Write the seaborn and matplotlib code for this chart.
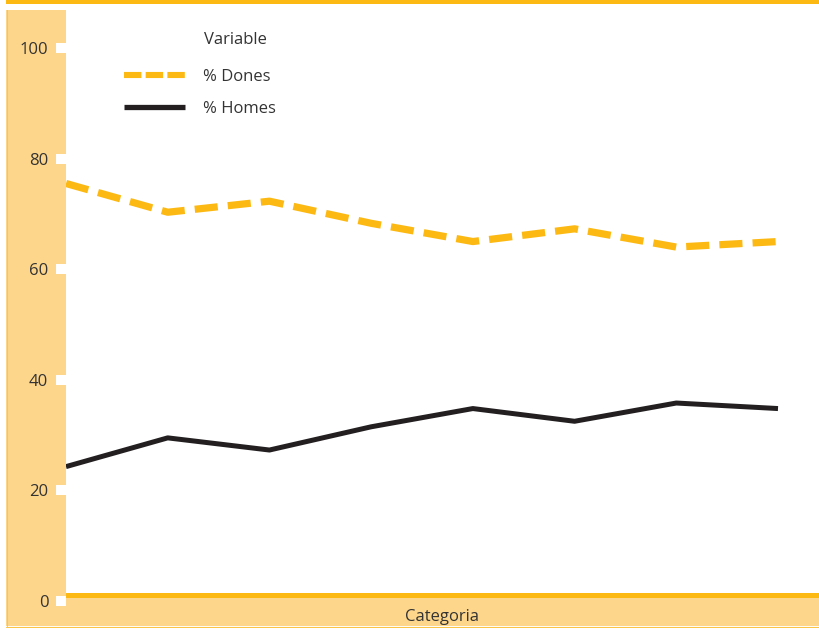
import matplotlib
matplotlib.use("Agg")
import matplotlib.pyplot as plt
import seaborn as sns
import pandas as pd
from matplotlib.patches import Rectangle
from matplotlib.lines import Line2D

# ---- data ----
categories = ["C1", "C2", "C3", "C4", "C5", "C6", "C7", "C8"]
dones = [75.5, 70.3, 72.3, 68.3, 65.0, 67.3, 64.0, 65.0]
homes = [24.3, 29.5, 27.3, 31.5, 34.8, 32.5, 35.8, 34.8]
series_names = ["% Dones", "% Homes"]
y_ticks = [0, 20, 40, 60, 80, 100]

ORANGE = "#FDB913"
BAND = "#FDD68C"
EDGE = "#FBC547"
BLACK = "#231F20"
TXT = "#333333"

sns.set_theme(style="white")
plt.rcParams["font.family"] = ["Open Sans", "DejaVu Sans"]

W, H = 819, 628
fig = plt.figure(figsize=(W / 100, H / 100), dpi=100)
fig.patch.set_facecolor("white")

def fx(px):
    return px / W

def fy(py):
    return 1 - py / H

# left band
fig.patches.append(Rectangle((fx(6), fy(626)), fx(66) - fx(6), fy(10) - fy(626),
                             transform=fig.transFigure, facecolor=BAND,
                             edgecolor="none", zorder=-1))
fig.lines.append(Line2D([fx(6.5), fx(6.5)], [fy(10), fy(626)], transform=fig.transFigure,
                        color=EDGE, linewidth=0.8, zorder=3))
fig.lines.append(Line2D([fx(6), 1], [fy(626.5), fy(626.5)], transform=fig.transFigure,
                        color=EDGE, linewidth=0.8, zorder=3))
# top line
fig.patches.append(Rectangle((fx(6), fy(4.3)), 1 - fx(6), fy(0) - fy(4.3),
                             transform=fig.transFigure, facecolor=ORANGE,
                             edgecolor="none", zorder=3))

ax = fig.add_axes([fx(66), fy(626), fx(819) - fx(66), fy(4) - fy(626)])
ax.set_facecolor("white")

df = pd.DataFrame({
    "Categoria": categories * 2,
    "Valor": dones + homes,
    "Variable": [series_names[0]] * len(categories) + [series_names[1]] * len(categories),
})

sns.lineplot(data=df[df["Variable"] == series_names[0]], x="Categoria", y="Valor",
             color=ORANGE, linewidth=5.2, ax=ax, legend=False, zorder=4)
sns.lineplot(data=df[df["Variable"] == series_names[1]], x="Categoria", y="Valor",
             color=BLACK, linewidth=3.6, ax=ax, legend=False, zorder=4)
ax.lines[0].set_linestyle((0, (3.2, 1.4)))
for ln in ax.lines:
    ln.set_solid_capstyle("butt")
    ln.set_dash_capstyle("butt")

# scales
px_per_unit = (601 - 48) / 100.0
ybot = (601 - 626) / px_per_unit
ytop = (601 - 4) / px_per_unit
ax.set_ylim(ybot, ytop)
ax.set_xlim(0, (819 - 66) / ((778 - 66) / 7.0))

# bottom band and line
ax.axhspan(ybot, (601 - 596.5) / px_per_unit, facecolor=BAND, edgecolor="none", zorder=1)
ax.axhline((601 - 594.5) / px_per_unit, color=ORANGE, linewidth=3.6, zorder=2)

for s in ax.spines.values():
    s.set_visible(False)

ax.set_yticks(y_ticks)
ax.set_yticklabels([str(t) for t in y_ticks])
ax.tick_params(axis="y", which="major", direction="out", length=7.2, width=7.2,
               color="white", pad=5.5, labelsize=12, labelcolor=TXT, left=True)
ax.set_xticks([])
ax.set_ylabel("")
ax.set_xlabel("")
fig.text(fx(442), fy(617), "Categoria", fontsize=12, color=TXT,
         ha="center", va="center", zorder=5)

# legend
handles = [Line2D([0], [0], color=ORANGE, linewidth=4.4, linestyle=(0, (2.85, 0.7))),
           Line2D([0], [0], color=BLACK, linewidth=3.8)]
for h in handles:
    h.set_dash_capstyle("butt")
    h.set_solid_capstyle("butt")
leg = ax.legend(handles, series_names, loc="upper left",
                bbox_to_anchor=(fx(124), fy(69)), bbox_transform=fig.transFigure,
                frameon=False, fontsize=12, handlelength=3.66, handletextpad=1.1,
                labelspacing=0.95, borderpad=0, borderaxespad=0)
for t in leg.get_texts():
    t.set_color(TXT)
fig.text(fx(204), fy(40), "Variable", fontsize=12, color=TXT, ha="left", va="center")

fig.savefig("out.png", dpi=100, facecolor="white")
